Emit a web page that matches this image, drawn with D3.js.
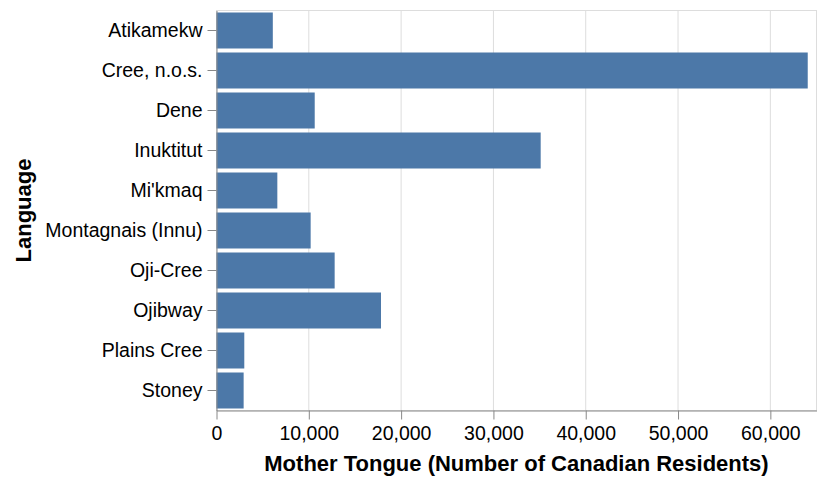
<!DOCTYPE html>
<html><head><meta charset="utf-8">
<script src="https://cdn.jsdelivr.net/npm/d3@7"></script>
<style>body{margin:0;background:#fff}svg{display:block}</style>
</head><body><svg id="c" width="826" height="484"></svg>
<script>
const languages = ["Atikamekw","Cree, n.o.s.","Dene","Inuktitut","Mi'kmaq","Montagnais (Innu)","Oji-Cree","Ojibway","Plains Cree","Stoney"];
const speakers = [6100, 64050, 10640, 35120, 6590, 10200, 12800, 17820, 3010, 2940];
const xTicks = [0,10000,20000,30000,40000,50000,60000];
const xTitle = "Mother Tongue (Number of Canadian Residents)";
const yTitle = "Language";

const m = {l:216.5, t:10.5, w:600, h:400};
const font = "'Liberation Sans', Arial, Helvetica, sans-serif";
const svg = d3.select("#c");
const g = svg.append("g").attr("transform",`translate(${m.l},${m.t})`);
const x = d3.scaleLinear().domain([0,65000]).range([0,m.w]);
const y = d3.scaleBand().domain(languages).range([0,m.h]).paddingInner(0.1).paddingOuter(0.05);

// grid
g.append("g").selectAll("line").data(xTicks).join("line")
  .attr("x1",d=>x(d)).attr("x2",d=>x(d)).attr("y1",0).attr("y2",m.h)
  .attr("stroke","#ddd").attr("stroke-width",1);
// view border
g.append("rect").attr("x",0).attr("y",0).attr("width",m.w).attr("height",m.h)
  .attr("fill","none").attr("stroke","#ddd");

// bars
g.append("g").selectAll("rect").data(languages).join("rect")
  .attr("x",x(0)).attr("y",d=>y(d)).attr("height",y.bandwidth())
  .attr("width",(d,i)=>x(speakers[i])-x(0)).attr("fill","#4c78a8");

// x axis
const xa = g.append("g").attr("transform",`translate(0,${m.h})`)
  .call(d3.axisBottom(x).tickValues(xTicks).tickFormat(d3.format(",")).tickSizeInner(9).tickSizeOuter(0).tickPadding(7));
xa.select(".domain").attr("stroke","#888");
xa.selectAll(".tick line").attr("stroke","#888");
xa.selectAll("text").attr("font-family",font).attr("font-size",19.5).attr("fill","#000");

// y axis
const ya = g.append("g")
  .call(d3.axisLeft(y).tickSizeInner(9).tickSizeOuter(0).tickPadding(5));
ya.select(".domain").attr("stroke","#888");
ya.selectAll(".tick line").attr("stroke","#888");
ya.selectAll("text").attr("font-family",font).attr("font-size",19.5).attr("fill","#000");

// titles
svg.append("text").attr("x",m.l+m.w/2).attr("y",470.5).attr("text-anchor","middle")
  .attr("font-family",font).attr("font-weight","bold").attr("font-size",22).attr("fill","#000").text(xTitle);
svg.append("text").attr("transform",`translate(31,${m.t+m.h/2}) rotate(-90)`).attr("text-anchor","middle")
  .attr("font-family",font).attr("font-weight","bold").attr("font-size",22).attr("fill","#000").text(yTitle);
</script></body></html>
